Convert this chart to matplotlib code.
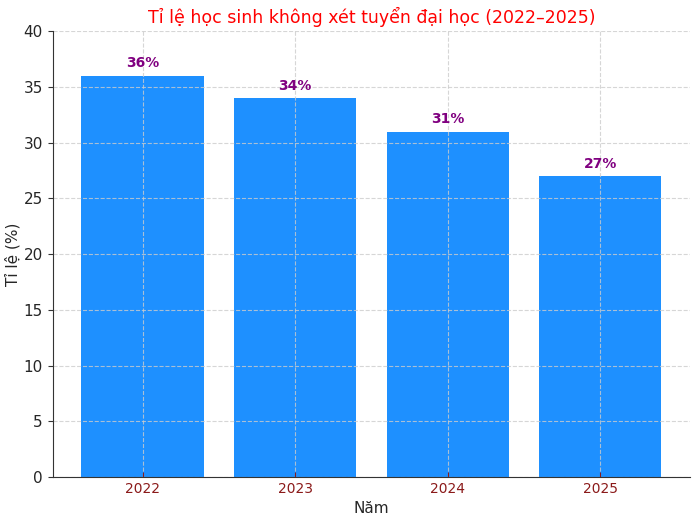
import matplotlib.pyplot as plt

# Data
years = ["2022", "2023", "2024", "2025"]
rates = [36, 34, 31, 27]

fig, ax = plt.subplots(figsize=(7, 5.23), dpi=100)

bars = ax.bar(years, rates, color="#1E90FF", width=0.8)

# value labels above bars
for bar, v in zip(bars, rates):
    ax.text(
        bar.get_x() + bar.get_width() / 2,
        bar.get_height() + 0.5,
        f"{v}%",
        ha="center",
        va="bottom",
        fontsize=10,
        fontweight="bold",
        color="purple",
    )

ax.set_title("Tỉ lệ học sinh không xét tuyển đại học (2022–2025)",
             fontsize=12.5, color="red")
ax.set_xlabel("Năm", fontsize=11, color="#262626")
ax.set_ylabel("Tỉ lệ (%)", fontsize=11, color="#262626", labelpad=2)
ax.set_ylim(0, 40)
ax.grid(True, linestyle="--", color="#cccccc", alpha=0.8)

ax.spines["top"].set_visible(False)
ax.spines["right"].set_visible(False)
ax.spines["left"].set_color("#333333")
ax.spines["bottom"].set_color("#333333")

ax.tick_params(axis="x", colors="#8B1A1A", labelsize=10, direction="in")
ax.tick_params(axis="y", labelsize=11, labelcolor="#262626", color="#333333")

plt.subplots_adjust(left=0.075, right=0.986, top=0.94, bottom=0.088)
plt.savefig("out.png", dpi=100)
